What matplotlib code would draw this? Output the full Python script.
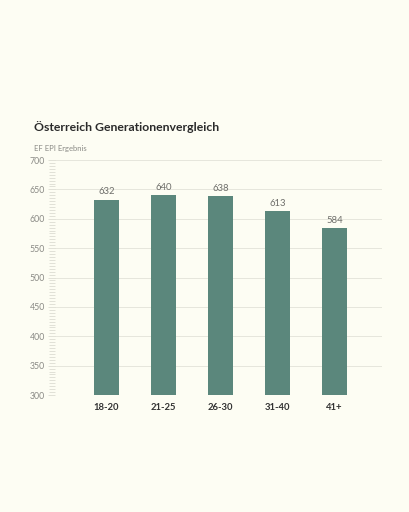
import numpy as np
import matplotlib.pyplot as plt
from matplotlib.ticker import MultipleLocator

# data
groups = ['18-20', '21-25', '26-30', '31-40', '41+']
scores = [632, 640, 638, 613, 584]

bg = '#fdfdf3'
bar_color = '#5b877c'
grey = '#8a8a85'

plt.rcParams['font.family'] = ['Lato', 'DejaVu Sans']

fig = plt.figure(figsize=(4.1, 5.12), dpi=100, facecolor=bg)
ax = fig.add_axes([0.134, 0.2285, 0.797, 0.459], facecolor=bg)

x = np.arange(len(groups))
bars = ax.bar(x, scores, width=0.43, color=bar_color, zorder=3)
for b, v in zip(bars, scores):
    ax.text(b.get_x() + b.get_width() / 2, v + 6, str(v), ha='center', va='bottom',
            fontsize=6.8, color='#6e6e6a')

ax.set_ylim(300, 700)
ax.set_xlim(-0.9, 4.83)
ax.yaxis.set_major_locator(MultipleLocator(50))
ax.yaxis.set_minor_locator(MultipleLocator(5))
ax.grid(axis='y', which='major', color='#e6e6dc', lw=0.7, zorder=0)
for s in ax.spines.values():
    s.set_visible(False)
ax.tick_params(axis='y', which='major', length=5, width=0.6, color='#dcdcd2',
               labelsize=6.3, labelcolor=grey, pad=2)
ax.tick_params(axis='y', which='minor', length=4, width=0.6, color='#dcdcd2')
ax.set_xticks(x)
ax.set_xticklabels(groups, fontsize=6.8, fontweight='bold', color='#333333')
ax.tick_params(axis='x', length=0, pad=6)

fig.text(34 / 410, 1 - 127 / 512, 'Österreich Generationenvergleich', fontsize=8.8,
         fontweight='bold', color='#2a2a2a', va='center', ha='left')
fig.text(34 / 410, 1 - 149 / 512, 'EF EPI Ergebnis', fontsize=5.5, color=grey,
         va='center', ha='left')

fig.savefig('out.png', dpi=100, facecolor=bg)
